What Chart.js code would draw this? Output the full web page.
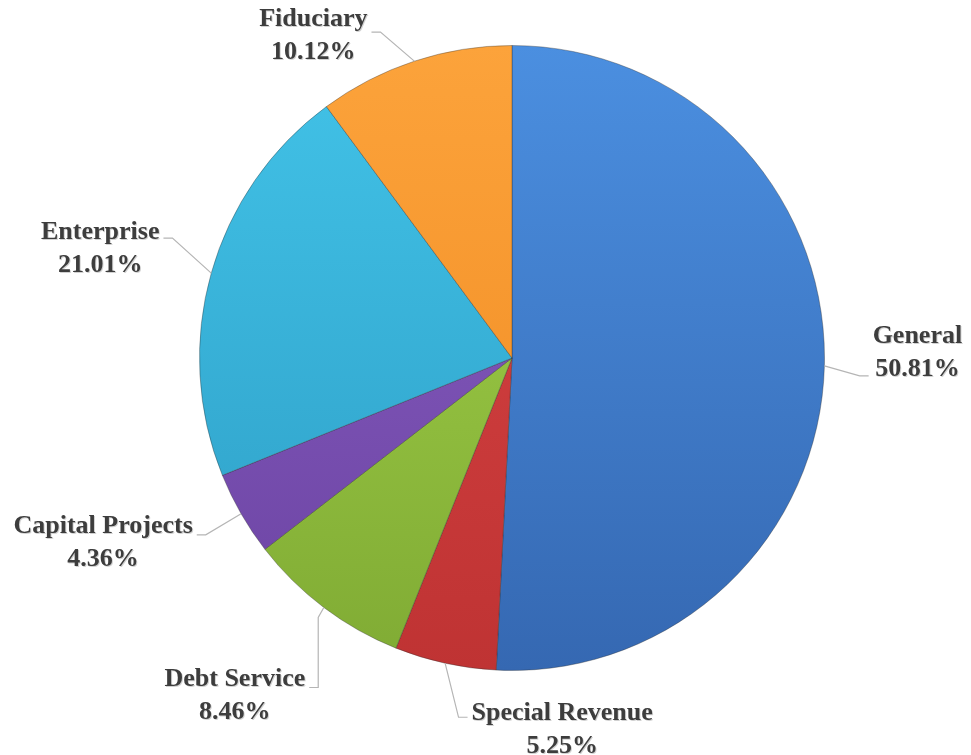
<!DOCTYPE html>
<html>
<head>
<meta charset="utf-8">
<script src="https://cdn.jsdelivr.net/npm/chart.js@4/dist/chart.umd.min.js"></script>
<style>
  html, body { margin: 0; padding: 0; background: #ffffff; }
  #wrap { width: 971px; height: 755px; position: relative; }
</style>
</head>
<body>
<div id="wrap"><canvas id="fundchart"></canvas></div>
<script>
// Fund share data (percent)
const categories = ["General", "Special Revenue", "Debt Service", "Capital Projects", "Enterprise", "Fiduciary"];
const shares = [50.81, 5.25, 8.46, 4.36, 21.01, 10.12];
const shareLabels = ["50.81%", "5.25%", "8.46%", "4.36%", "21.01%", "10.12%"];

// light (top) and dark (bottom) shade for each slice
const lightColors = ["#4b8fe0", "#d94545", "#a4d44b", "#8a60c4", "#42c3e8", "#fca33b"];
const darkColors = ["#3568b2", "#bf3333", "#80ab34", "#6b43a2", "#2d9dc5", "#ef8920"];

// label block offset from the slice edge point: [dx, dy, elbow y offset from block centre]
const labelLayout = [
  [93, -14, 24],
  [117, 66, -12],
  [-89, 88, -8],
  [-138, 28, -7],
  [-111, -25, -10],
  [-101, -26, -3]
];

function sliceGradient(context, i) {
  const chart = context.chart;
  const area = chart.chartArea;
  if (!area) return lightColors[i];
  const g = chart.ctx.createLinearGradient(0, area.top, 0, area.bottom);
  g.addColorStop(0, lightColors[i]);
  g.addColorStop(1, darkColors[i]);
  return g;
}

const labelPlugin = {
  id: 'sliceLabels',
  afterDatasetsDraw(chart) {
    const ctx = chart.ctx;
    const meta = chart.getDatasetMeta(0);
    ctx.save();
    ctx.font = 'bold 26px "Liberation Serif", "Times New Roman", serif';
    ctx.textAlign = 'center';
    ctx.textBaseline = 'middle';
    meta.data.forEach((arc, i) => {
      const mid = (arc.startAngle + arc.endAngle) / 2;
      const ex = arc.x + Math.cos(mid) * arc.outerRadius;
      const ey = arc.y + Math.sin(mid) * arc.outerRadius;
      const lay = labelLayout[i];
      const cx = ex + lay[0];
      const cy = ey + lay[1];
      const w = Math.max(ctx.measureText(categories[i]).width, ctx.measureText(shareLabels[i]).width);
      const right = lay[0] > 0;
      const sideX = right ? cx - w / 2 - 4 : cx + w / 2 + 4;
      const ly = cy + lay[2];
      const kneeX = right ? sideX - 9 : sideX + 9;

      // leader line
      ctx.strokeStyle = '#b5b5b5';
      ctx.lineWidth = 1.2;
      ctx.beginPath();
      ctx.moveTo(ex, ey);
      if (i === 2) {
        ctx.lineTo(kneeX, ey + 10);
      }
      ctx.lineTo(kneeX, ly);
      ctx.lineTo(sideX, ly);
      ctx.stroke();

      // text
      ctx.fillStyle = 'rgba(0,0,0,0.18)';
      ctx.fillText(categories[i], cx + 1, cy - 16 + 1);
      ctx.fillText(shareLabels[i], cx + 1, cy + 17 + 1);
      ctx.fillStyle = '#3d3d3d';
      ctx.fillText(categories[i], cx, cy - 16);
      ctx.fillText(shareLabels[i], cx, cy + 17);
    });
    ctx.restore();
  }
};

const canvas = document.getElementById("fundchart");
const fundchart = new Chart(canvas, {
  type: 'pie',
  data: {
    labels: categories,
    datasets: [{
      data: shares,
      backgroundColor: (context) => sliceGradient(context, context.dataIndex),
      borderColor: 'rgba(40,40,40,0.35)',
      borderWidth: 1
    }]
  },
  options: {
    responsive: true,
    maintainAspectRatio: false,
    animation: false,
    layout: { padding: { top: 45, bottom: 84, left: 199, right: 146 } },
    plugins: {
      legend: { display: false },
      tooltip: { enabled: false }
    }
  },
  plugins: [labelPlugin]
});
</script>
</body>
</html>
